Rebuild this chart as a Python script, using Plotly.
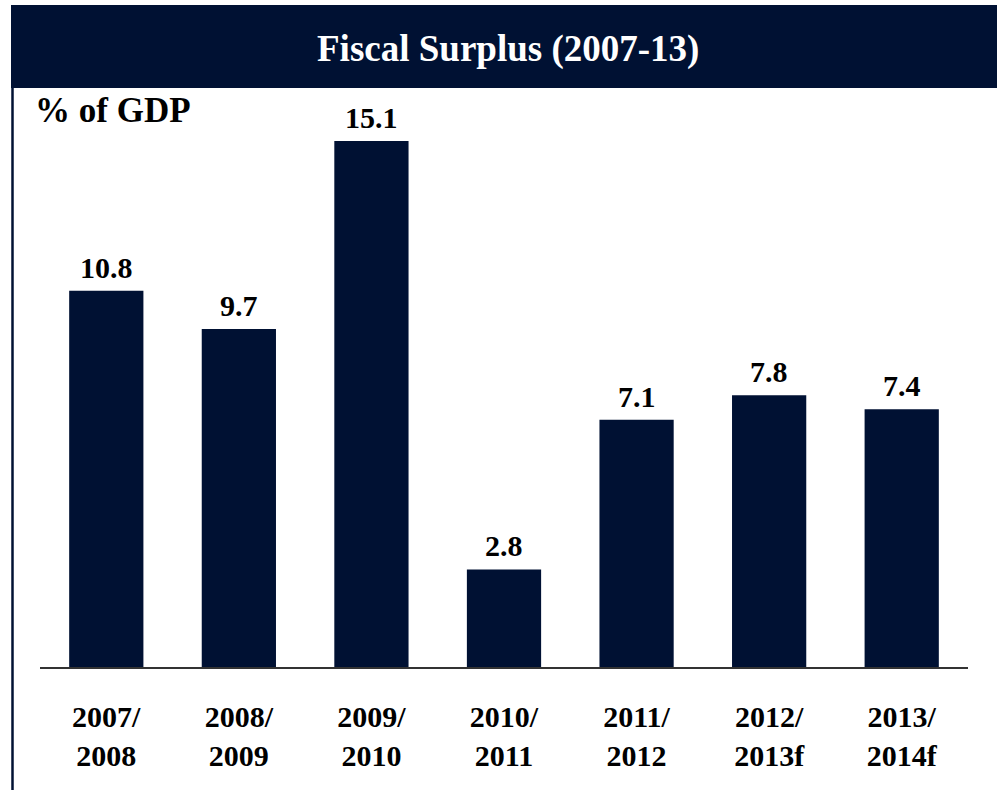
import plotly.graph_objects as go

W, H = 997, 790
NAVY = "#001133"
FONT = "Liberation Serif, Times New Roman, serif"

# chart data
periods = ["2007/2008", "2008/2009", "2009/2010", "2010/2011",
           "2011/2012", "2012/2013f", "2013/2014f"]
tick_labels = ["2007/<br>2008", "2008/<br>2009", "2009/<br>2010", "2010/<br>2011",
               "2011/<br>2012", "2012/<br>2013f", "2013/<br>2014f"]
surplus_pct = [10.8, 9.7, 15.1, 2.8, 7.1, 7.8, 7.4]

title_text = "Fiscal Surplus (2007-13)"
unit_text = "% of GDP"


def px_x(x):
    return x / W


def px_y(y):
    # pixel row from top -> paper fraction
    return 1 - y / H


fig = go.Figure()

fig.add_trace(go.Bar(
    x=periods,
    y=surplus_pct,
    width=0.56,
    marker=dict(color=NAVY, line=dict(width=0)),
    hoverinfo="x+y",
))

# value labels above each bar
for p, v in zip(periods, surplus_pct):
    fig.add_annotation(
        x=p, y=v, xref="x", yref="y",
        text=f"<b>{v:.1f}</b>",
        showarrow=False, yanchor="bottom", yshift=5,
        font=dict(family=FONT, size=30, color="#000000"),
    )

# title bar + left rule
fig.add_shape(type="rect", xref="paper", yref="paper",
              x0=px_x(11), x1=1, y0=px_y(88), y1=px_y(5),
              fillcolor=NAVY, line=dict(width=0), layer="below")
fig.add_shape(type="line", xref="paper", yref="paper",
              x0=px_x(12.5), x1=px_x(12.5), y0=0, y1=px_y(88),
              line=dict(color=NAVY, width=2.5))

fig.add_annotation(
    x=px_x(508), y=px_y(49), xref="paper", yref="paper",
    text=f"<b>{title_text}</b>", showarrow=False,
    xanchor="center", yanchor="middle",
    font=dict(family=FONT, size=37, color="#FFFFFF"),
)
fig.add_annotation(
    x=px_x(33), y=px_y(111), xref="paper", yref="paper",
    text=f"<b>{unit_text}</b>", showarrow=False,
    xanchor="left", yanchor="middle",
    font=dict(family=FONT, size=35, color="#000000"),
)

fig.update_xaxes(
    domain=[px_x(40), px_x(968)],
    tickmode="array", tickvals=periods,
    ticktext=[f"<b>{t}</b>" for t in tick_labels],
    tickfont=dict(family=FONT, size=30, color="#000000"),
    showline=True, linecolor="#333333", linewidth=2,
    ticks="", showgrid=False, zeroline=False,
    ticklabelstandoff=22,
)
fig.update_yaxes(
    domain=[px_y(667), px_y(88)],
    range=[0, (667 - 88) / (526 / 15.1)],
    visible=False, showgrid=False, zeroline=False,
)

fig.update_layout(
    width=W, height=H,
    margin=dict(l=0, r=0, t=0, b=0),
    paper_bgcolor="#FFFFFF",
    plot_bgcolor="#FFFFFF",
    showlegend=False,
    bargap=0.44,
    font=dict(family=FONT),
)

fig.write_html("out.html", config={"displayModeBar": False},
               post_script="document.body.style.margin='0';")
